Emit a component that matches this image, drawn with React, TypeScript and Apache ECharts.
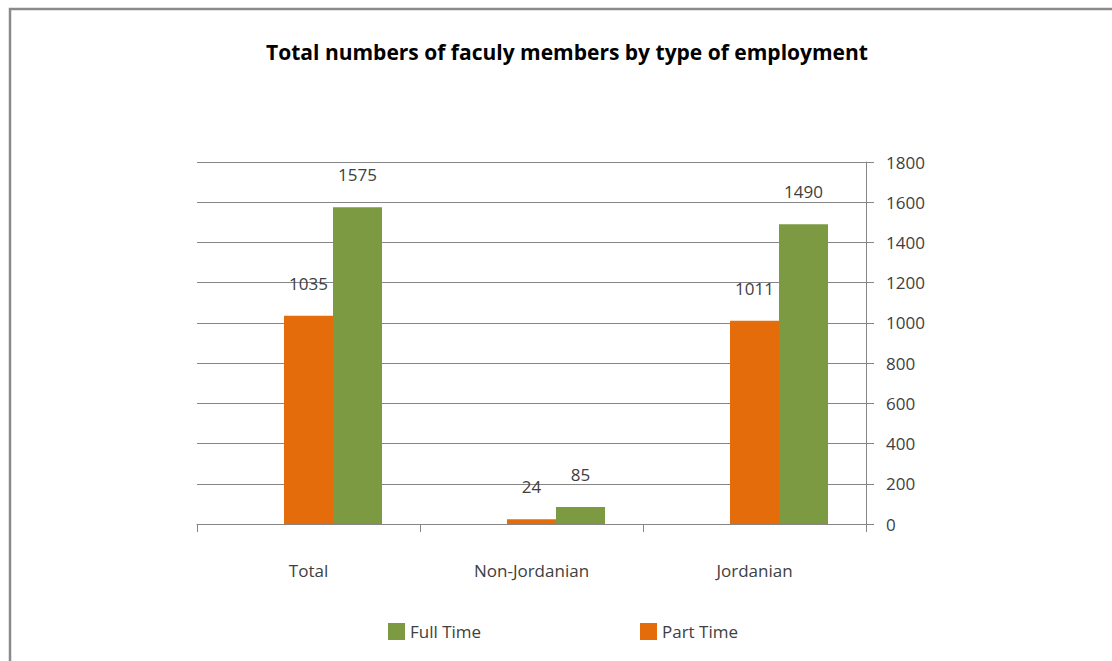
import React, { useEffect, useRef } from "react";
import * as echarts from "echarts";

const categories = ["Total", "Non-Jordanian", "Jordanian"];
const partTime = [1035, 24, 1011];
const fullTime = [1575, 85, 1490];
const hiddenSeries = [null, null, null];
const yTicks = { min: 0, max: 1800, interval: 200 };

const FONT = "'Open Sans', 'Liberation Sans', sans-serif";

export default function App() {
  const ref = useRef<HTMLDivElement>(null);
  useEffect(() => {
    const chart = echarts.init(ref.current!, null, { renderer: "svg" });
    const labelStyle = {
      show: true,
      position: "top" as const,
      distance: 24,
      color: "#404040",
      fontSize: 17,
      fontFamily: FONT,
    };
    chart.setOption({
      animation: false,
      backgroundColor: "#ffffff",
      title: {
        text: "Total numbers of faculy members by type of employment",
        left: 562,
        textAlign: "center",
        top: 36,
        textStyle: { fontFamily: FONT, fontWeight: "bold", fontSize: 21, color: "#000000" },
      },
      graphic: [
        {
          type: "rect",
          shape: { x: 10, y: 9, width: 1120, height: 680 },
          style: { fill: "none", stroke: "#8a8a8a", lineWidth: 2.5 },
          silent: true,
        },
      ],
      legend: [
        {
          data: ["Full Time"],
          left: 383,
          top: 618,
          itemWidth: 17,
          itemHeight: 17,
          itemGap: 0,
          icon: "rect",
          textStyle: { fontFamily: FONT, fontSize: 17, color: "#404040", padding: [0, 0, 0, 0] },
        },
        {
          data: ["Part Time"],
          left: 635,
          top: 618,
          itemWidth: 17,
          itemHeight: 17,
          itemGap: 0,
          icon: "rect",
          textStyle: { fontFamily: FONT, fontSize: 17, color: "#404040", padding: [0, 0, 0, 0] },
        },
      ],
      grid: { left: 197, right: 246, top: 162, bottom: 137, containLabel: false },
      xAxis: {
        type: "category",
        data: categories,
        axisLine: { show: true, lineStyle: { color: "#868686", width: 1 } },
        axisTick: { show: true, alignWithLabel: false, length: 8, lineStyle: { color: "#868686" } },
        axisLabel: { margin: 38, color: "#404040", fontSize: 17, fontFamily: FONT },
      },
      yAxis: {
        type: "value",
        position: "right",
        min: yTicks.min,
        max: yTicks.max,
        interval: yTicks.interval,
        axisLine: { show: true, lineStyle: { color: "#868686", width: 1 } },
        axisTick: { show: true, length: 8, inside: false, lineStyle: { color: "#868686" } },
        splitLine: { show: true, lineStyle: { color: "#868686", width: 1 } },
        axisLabel: {
          margin: 20,
          color: "#404040",
          fontSize: 17,
          fontFamily: FONT,
          padding: [0, 0, 7, 0],
          formatter: (v: number) => String(v),
        },
      },
      series: [
        {
          name: "hidden",
          type: "bar",
          data: hiddenSeries,
          barWidth: 49,
          barGap: "0%",
        },
        {
          name: "Part Time",
          type: "bar",
          data: partTime,
          barWidth: 49,
          barGap: "0%",
          itemStyle: { color: "#E46C0A" },
          label: labelStyle,
        },
        {
          name: "Full Time",
          type: "bar",
          data: fullTime,
          barWidth: 49,
          barGap: "0%",
          itemStyle: { color: "#7B9A42" },
          label: labelStyle,
        },
      ],
    });
    return () => chart.dispose();
  }, []);
  return (
    <div
      ref={ref}
      style={{ position: "fixed", left: 0, top: 0, width: 1112, height: 661 }}
    />
  );
}
